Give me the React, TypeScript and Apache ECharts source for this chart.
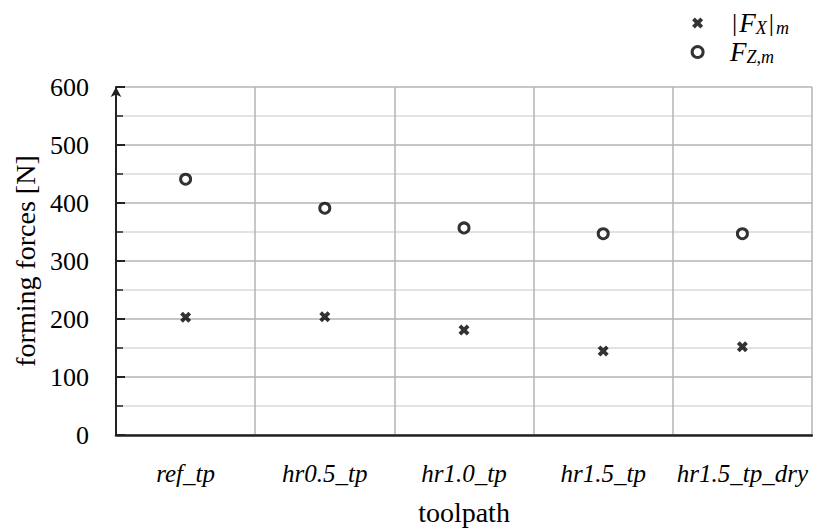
import React, { useEffect, useRef } from 'react';
import * as echarts from 'echarts';

const categories = ['ref_tp', 'hr0.5_tp', 'hr1.0_tp', 'hr1.5_tp', 'hr1.5_tp_dry'];
const fxValues = [203, 204, 181, 145, 152];
const fzValues = [441, 391, 357, 347, 347];
const yMin = 0;
const yMax = 600;
const yInterval = 100;

const FONT = '"Liberation Serif", "Times New Roman", serif';
const CROSS = 'path://M0,2.5L2.5,0L5,2.5L7.5,0L10,2.5L7.5,5L10,7.5L7.5,10L5,7.5L2.5,10L0,7.5L2.5,5Z';

export default function App() {
  const ref = useRef<HTMLDivElement>(null);
  useEffect(() => {
    if (!ref.current) return;
    const chart = echarts.init(ref.current, undefined, { renderer: 'svg' });
    chart.setOption({
      animation: false,
      backgroundColor: '#fff',
      grid: { left: 116, right: 1, top: 87, height: 351 },
      legend: {
        orient: 'vertical',
        right: 19,
        top: 4,
        itemWidth: 11,
        itemHeight: 11,
        itemGap: 1,
        data: [
          { name: 'FX', icon: CROSS, itemStyle: { color: '#000' } },
          { name: 'FZ', icon: 'circle', itemStyle: { color: '#fff', borderColor: '#000', borderWidth: 3 } },
        ],
        formatter: (n: string) =>
          n === 'FX' ? '{g| }{n||}{i|F}{s|X}{n||}{s|m}' : '{g| }{i|F}{s|Z,m}',
        textStyle: {
          fontFamily: FONT,
          color: '#000',
          lineHeight: 28,
          rich: {
            g: { width: 22, fontSize: 12, lineHeight: 28 },
            n: { fontFamily: FONT, fontSize: 26, lineHeight: 24, verticalAlign: 'top', color: '#000', padding: [0, 2, 0, 2] },
            i: { fontFamily: FONT, fontSize: 27, fontStyle: 'italic', lineHeight: 24, verticalAlign: 'top', color: '#000' },
            s: { fontFamily: FONT, fontSize: 18, fontStyle: 'italic', lineHeight: 10, verticalAlign: 'bottom', color: '#000' },
          },
        },
      },
      xAxis: {
        type: 'category',
        data: categories,
        name: 'toolpath',
        nameLocation: 'middle',
        nameGap: 63,
        nameTextStyle: { fontFamily: FONT, fontSize: 28, color: '#000' },
        axisLine: { lineStyle: { color: '#222', width: 2.5 } },
        axisTick: { show: false },
        axisLabel: { interval: 0, fontFamily: FONT, fontSize: 25, fontStyle: 'italic', color: '#000', margin: 26 },
        splitLine: { show: true, interval: 0, lineStyle: { color: '#b4b4b4', width: 1.5 } },
      },
      yAxis: {
        type: 'value',
        min: yMin,
        max: yMax,
        interval: yInterval,
        name: 'forming forces [N]',
        nameLocation: 'middle',
        nameGap: 72,
        nameTextStyle: { fontFamily: FONT, fontSize: 28, color: '#000' },
        axisLine: {
          show: true,
          symbol: ['none', 'arrow'],
          symbolSize: [8, 10],
          lineStyle: { color: '#222', width: 2 },
        },
        axisTick: { show: true, inside: true, length: 9, lineStyle: { color: '#222', width: 2 } },
        minorTick: { show: true, splitNumber: 2, length: 7, lineStyle: { color: '#222', width: 1.5 } },
        axisLabel: { fontFamily: FONT, fontSize: 26, color: '#000', margin: 27 },
        splitLine: { show: true, lineStyle: { color: '#b4b4b4', width: 1.5 } },
        minorSplitLine: { show: true, lineStyle: { color: '#dadada', width: 1.5 } },
      },
      series: [
        {
          name: 'FX',
          type: 'scatter',
          data: fxValues,
          symbol: CROSS,
          symbolSize: 11,
          itemStyle: { color: '#000' },
          z: 3,
        },
        {
          name: 'FZ',
          type: 'scatter',
          data: fzValues,
          symbol: 'circle',
          symbolSize: 10,
          itemStyle: { color: '#fff', borderColor: '#000', borderWidth: 3 },
          z: 3,
        },
      ],
    });
    return () => chart.dispose();
  }, []);
  return (
    <div
      ref={ref}
      style={{ position: 'absolute', left: 0, top: 0, width: 813, height: 531 }}
    />
  );
}
